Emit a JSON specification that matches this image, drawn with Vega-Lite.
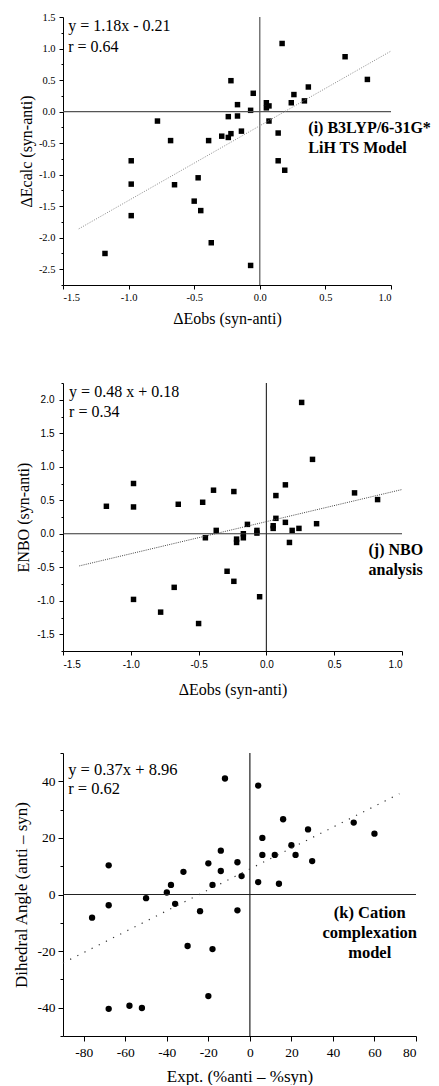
{
  "$schema": "https://vega.github.io/schema/vega-lite/v6.json",
  "padding": {"left": 12, "top": 12, "right": 0, "bottom": 0},
  "columns": 1,
  "align": "none",
  "spacing": 55,
  "config": {
    "view": {"stroke": null},
    "axis": {
      "grid": false,
      "domainColor": "black",
      "domainWidth": 1,
      "tickColor": "black",
      "tickWidth": 1,
      "labelColor": "black",
      "titleColor": "black",
      "titleFont": "Liberation Serif",
      "titleFontWeight": "normal",
      "titleFontSize": 16
    }
  },
  "datasets": {
    "z": [{"x": 0, "y": 0}],
    "p1": [
      {"x": 0.17, "y": 1.08}, {"x": 0.65, "y": 0.87}, {"x": 0.82, "y": 0.51}, {"x": -0.22, "y": 0.49},
      {"x": -0.05, "y": 0.29}, {"x": 0.37, "y": 0.39}, {"x": 0.26, "y": 0.27}, {"x": 0.34, "y": 0.17},
      {"x": 0.24, "y": 0.14}, {"x": 0.05, "y": 0.14}, {"x": 0.05, "y": 0.06}, {"x": 0.07, "y": 0.09},
      {"x": -0.17, "y": 0.11}, {"x": -0.07, "y": 0.02}, {"x": -0.24, "y": -0.08}, {"x": -0.17, "y": -0.07},
      {"x": 0.07, "y": -0.15}, {"x": -0.78, "y": -0.15}, {"x": -0.14, "y": -0.31}, {"x": -0.22, "y": -0.35},
      {"x": -0.29, "y": -0.39}, {"x": -0.24, "y": -0.41}, {"x": -0.39, "y": -0.46}, {"x": -0.68, "y": -0.46},
      {"x": 0.14, "y": -0.34}, {"x": -0.98, "y": -0.78}, {"x": 0.14, "y": -0.78}, {"x": 0.19, "y": -0.93},
      {"x": -0.47, "y": -1.05}, {"x": -0.98, "y": -1.15}, {"x": -0.65, "y": -1.16}, {"x": -0.5, "y": -1.42},
      {"x": -0.45, "y": -1.57}, {"x": -0.98, "y": -1.65}, {"x": -0.37, "y": -2.08}, {"x": -1.18, "y": -2.25},
      {"x": -0.07, "y": -2.44}
    ],
    "p2": [
      {"x": 0.26, "y": 1.96}, {"x": 0.34, "y": 1.11}, {"x": 0.14, "y": 0.73}, {"x": 0.65, "y": 0.61},
      {"x": 0.82, "y": 0.51}, {"x": 0.07, "y": 0.57}, {"x": -0.98, "y": 0.75}, {"x": -0.39, "y": 0.65},
      {"x": -0.24, "y": 0.63}, {"x": -0.47, "y": 0.47}, {"x": -0.65, "y": 0.44}, {"x": -1.18, "y": 0.41},
      {"x": -0.98, "y": 0.4}, {"x": 0.07, "y": 0.23}, {"x": -0.14, "y": 0.14}, {"x": 0.14, "y": 0.17},
      {"x": 0.37, "y": 0.15}, {"x": 0.05, "y": 0.12}, {"x": 0.05, "y": 0.08}, {"x": 0.24, "y": 0.08},
      {"x": 0.19, "y": 0.05}, {"x": -0.37, "y": 0.05}, {"x": -0.07, "y": 0.05}, {"x": -0.07, "y": 0.01},
      {"x": -0.17, "y": 0.0}, {"x": -0.17, "y": -0.06}, {"x": -0.45, "y": -0.06}, {"x": -0.22, "y": -0.08},
      {"x": -0.22, "y": -0.13}, {"x": 0.17, "y": -0.13}, {"x": -0.29, "y": -0.56}, {"x": -0.24, "y": -0.71},
      {"x": -0.68, "y": -0.8}, {"x": -0.05, "y": -0.94}, {"x": -0.98, "y": -0.98}, {"x": -0.78, "y": -1.17},
      {"x": -0.5, "y": -1.34}
    ],
    "p3": [
      {"x": -12, "y": 41}, {"x": 4, "y": 38.5}, {"x": 16, "y": 26.6}, {"x": 28, "y": 23},
      {"x": 50, "y": 25.4}, {"x": 60, "y": 21.5}, {"x": 6, "y": 20}, {"x": 20, "y": 17.4},
      {"x": -14, "y": 15.5}, {"x": 6, "y": 14}, {"x": 12, "y": 14}, {"x": 22, "y": 14},
      {"x": 30, "y": 11.8}, {"x": -20, "y": 11}, {"x": -6, "y": 11.4}, {"x": -68, "y": 10.3},
      {"x": -32, "y": 8}, {"x": -14, "y": 8.3}, {"x": -4, "y": 6.5}, {"x": 4, "y": 4.4},
      {"x": 14, "y": 3.8}, {"x": -38, "y": 3.4}, {"x": -18, "y": 3.4}, {"x": -40, "y": 0.7},
      {"x": -50, "y": -1.3}, {"x": -68, "y": -3.8}, {"x": -36, "y": -3.3}, {"x": -24, "y": -5.9},
      {"x": -6, "y": -5.6}, {"x": -76, "y": -8.2}, {"x": -30, "y": -18.2}, {"x": -18, "y": -19.3},
      {"x": -20, "y": -35.9}, {"x": -58, "y": -39.3}, {"x": -52, "y": -40.1}, {"x": -68, "y": -40.4}
    ],
    "t1": [{"x": -1.38, "y": -1.86}, {"x": 1.0, "y": 0.96}],
    "t2": [{"x": -1.38, "y": -0.48}, {"x": 1.0, "y": 0.66}],
    "t3": [{"x": -90, "y": -24.2}, {"x": 72, "y": 35.6}],
    "e1": [{"x": -1.46, "y": 1.35, "text": "y = 1.18x - 0.21"}, {"x": -1.46, "y": 1.03, "text": "r = 0.64"}],
    "l1": [{"x": 0.37, "y": -0.265, "text": "(i) B3LYP/6-31G*"}, {"x": 0.37, "y": -0.583, "text": "LiH TS Model"}],
    "e2": [{"x": -1.455, "y": 2.11, "text": "y = 0.48 x + 0.18"}, {"x": -1.455, "y": 1.82, "text": "r = 0.34"}],
    "l2": [{"x": 0.753, "y": -0.243, "text": "(j) NBO"}, {"x": 0.753, "y": -0.541, "text": "analysis"}],
    "e3": [{"x": -87.5, "y": 44.1, "text": "y = 0.37x + 8.96"}, {"x": -87.5, "y": 37.2, "text": "r = 0.62"}],
    "l3": [{"x": 57.7, "y": -6.4, "text": "(k) Cation"}, {"x": 57.7, "y": -13.5, "text": "complexation"}, {"x": 57.7, "y": -20.8, "text": "model"}]
  },
  "concat": [
    {
      "width": 328,
      "height": 268,
      "resolve": {"axis": {"y": "independent"}},
      "layer": [
        {
          "data": {"name": "p1"},
          "mark": {"type": "point", "shape": "square", "filled": true, "color": "black", "opacity": 1, "size": 30},
          "encoding": {
            "x": {
              "field": "x", "type": "quantitative",
              "scale": {"domain": [-1.5, 1.0], "nice": false, "zero": false},
              "axis": {
                "title": "ΔEobs (syn-anti)",
                "values": [-1.5, -1.25, -1, -0.75, -0.5, -0.25, 0, 0.25, 0.5, 0.75, 1],
                "labelExpr": "datum.value % 0.5 == 0 ? replace(format(datum.value, '.1f'), '−', '-') : ''",
                "tickSize": {"condition": {"test": "datum.value % 0.5 == 0", "value": 4}, "value": 2},
                "labelFont": "Liberation Serif", "labelFontSize": 10.5, "labelPadding": 3, "titlePadding": 8
              }
            },
            "y": {
              "field": "y", "type": "quantitative",
              "scale": {"domain": [-2.75, 1.5], "nice": false, "zero": false},
              "axis": {
                "orient": "left",
                "title": "ΔEcalc (syn-anti)",
                "values": [-2.5, -2.25, -1.5, -1.25, -0.5, -0.25, 0.5, 0.75, 1.5],
                "labelExpr": "datum.value % 0.5 == 0 ? replace(format(datum.value, '.1f'), '−', '-') : ''",
                "tickSize": {"condition": {"test": "datum.value % 0.5 == 0", "value": 4}, "value": 2},
                "labelFont": "Liberation Serif", "labelFontSize": 10.5, "labelPadding": 4, "titlePadding": 4
              }
            }
          }
        },
        {
          "data": {"name": "z"},
          "mark": {"type": "rule", "color": "#555", "strokeWidth": 1.2},
          "encoding": {
            "y": {
              "field": "y", "type": "quantitative",
              "axis": {
                "orient": "left", "title": null, "domain": false,
                "values": [-2, -1.75, -1, -0.75, 0, 0.25, 1],
                "labelExpr": "datum.value % 0.5 == 0 ? replace(format(datum.value, '.1f'), '−', '-') : ''",
                "tickSize": {"condition": {"test": "datum.value % 0.5 == 0", "value": 4}, "value": 2},
                "labelFont": "Liberation Serif", "labelFontSize": 10.5, "labelPadding": 4
              }
            }
          }
        },
        {"data": {"name": "z"}, "mark": {"type": "rule", "color": "#555", "strokeWidth": 1.2}, "encoding": {"x": {"field": "x", "type": "quantitative"}}},
        {
          "data": {"name": "t1"},
          "mark": {"type": "line", "color": "#888", "strokeWidth": 1, "strokeDash": [1, 1.5]},
          "encoding": {
            "x": {"field": "x", "type": "quantitative"},
            "y": {"field": "y", "type": "quantitative", "axis": {"orient": "left", "title": null, "domain": false, "labels": false, "values": [-2.75, 1.25], "tickSize": 2}}
          }
        },
        {
          "data": {"name": "e1"},
          "mark": {"type": "text", "font": "Liberation Serif", "fontSize": 16, "align": "left", "baseline": "middle", "color": "black"},
          "encoding": {"x": {"field": "x", "type": "quantitative"}, "y": {"field": "y", "type": "quantitative", "axis": null}, "text": {"field": "text"}}
        },
        {
          "data": {"name": "l1"},
          "mark": {"type": "text", "font": "Liberation Serif", "fontSize": 16, "fontWeight": "bold", "align": "left", "baseline": "middle", "color": "black"},
          "encoding": {"x": {"field": "x", "type": "quantitative"}, "y": {"field": "y", "type": "quantitative", "axis": null}, "text": {"field": "text"}}
        }
      ]
    },
    {
      "width": 339,
      "height": 268,
      "resolve": {"axis": {"y": "independent"}},
      "layer": [
        {
          "data": {"name": "p2"},
          "mark": {"type": "point", "shape": "square", "filled": true, "color": "black", "opacity": 1, "size": 30},
          "encoding": {
            "x": {
              "field": "x", "type": "quantitative",
              "scale": {"domain": [-1.5, 1.0], "nice": false, "zero": false},
              "axis": {
                "title": "ΔEobs (syn-anti)",
                "values": [-1.5, -1.25, -1, -0.75, -0.5, -0.25, 0, 0.25, 0.5, 0.75, 1],
                "labelExpr": "datum.value % 0.5 == 0 ? replace(format(datum.value, '.1f'), '−', '-') : ''",
                "tickSize": {"condition": {"test": "datum.value % 0.5 == 0", "value": 4}, "value": 2},
                "labelFont": "Liberation Sans", "labelFontSize": 10, "labelPadding": 4, "titlePadding": 12
              }
            },
            "y": {
              "field": "y", "type": "quantitative",
              "scale": {"domain": [-1.75, 2.25], "nice": false, "zero": false},
              "axis": {
                "orient": "left",
                "title": "ENBO (syn-anti)",
                "values": [-1.5, -1.25, -0.5, -0.25, 0.5, 0.75, 1.5],
                "labelExpr": "datum.value % 0.5 == 0 ? replace(format(datum.value, '.1f'), '−', '-') : ''",
                "tickSize": {"condition": {"test": "datum.value % 0.5 == 0", "value": 4}, "value": 2},
                "labelFont": "Liberation Sans", "labelFontSize": 10, "labelPadding": 5, "titlePadding": 5
              }
            }
          }
        },
        {
          "data": {"name": "z"},
          "mark": {"type": "rule", "color": "#333", "strokeWidth": 1.2},
          "encoding": {
            "y": {
              "field": "y", "type": "quantitative",
              "axis": {
                "orient": "left", "title": null, "domain": false,
                "values": [-1, -0.75, 0, 0.25, 1, 1.25, 2],
                "labelExpr": "datum.value % 0.5 == 0 ? replace(format(datum.value, '.1f'), '−', '-') : ''",
                "tickSize": {"condition": {"test": "datum.value % 0.5 == 0", "value": 4}, "value": 2},
                "labelFont": "Liberation Sans", "labelFontSize": 10, "labelPadding": 5
              }
            }
          }
        },
        {"data": {"name": "z"}, "mark": {"type": "rule", "color": "#333", "strokeWidth": 1.2}, "encoding": {"x": {"field": "x", "type": "quantitative"}}},
        {
          "data": {"name": "t2"},
          "mark": {"type": "line", "color": "#444", "strokeWidth": 1, "strokeDash": [1, 1.2]},
          "encoding": {
            "x": {"field": "x", "type": "quantitative"},
            "y": {"field": "y", "type": "quantitative", "axis": {"orient": "left", "title": null, "domain": false, "labels": false, "values": [-1.75, 1.75, 2.25], "tickSize": 2}}
          }
        },
        {
          "data": {"name": "e2"},
          "mark": {"type": "text", "font": "Liberation Serif", "fontSize": 16, "align": "left", "baseline": "middle", "color": "black"},
          "encoding": {"x": {"field": "x", "type": "quantitative"}, "y": {"field": "y", "type": "quantitative", "axis": null}, "text": {"field": "text"}}
        },
        {
          "data": {"name": "l2"},
          "mark": {"type": "text", "font": "Liberation Serif", "fontSize": 16, "fontWeight": "bold", "align": "left", "baseline": "middle", "color": "black"},
          "encoding": {"x": {"field": "x", "type": "quantitative"}, "y": {"field": "y", "type": "quantitative", "axis": null}, "text": {"field": "text"}}
        }
      ]
    },
    {
      "width": 353,
      "height": 283,
      "resolve": {"axis": {"y": "independent"}},
      "layer": [
        {
          "data": {"name": "p3"},
          "mark": {"type": "point", "shape": "circle", "filled": true, "color": "black", "opacity": 1, "size": 40},
          "encoding": {
            "x": {
              "field": "x", "type": "quantitative",
              "scale": {"domain": [-90, 80], "nice": false, "zero": false},
              "axis": {
                "title": "Expt. (%anti – %syn)",
                "titleFontSize": 17,
                "values": [-80, -70, -60, -50, -40, -30, -20, -10, 0, 10, 20, 30, 40, 50, 60, 70, 80],
                "labelExpr": "datum.value % 20 == 0 ? replace(format(datum.value, 'd'), '−', '-') : ''",
                "tickSize": {"condition": {"test": "datum.value % 20 == 0", "value": 5}, "value": 3},
                "labelFont": "Liberation Serif", "labelFontSize": 13.5, "labelPadding": 4, "titlePadding": 10
              }
            },
            "y": {
              "field": "y", "type": "quantitative",
              "scale": {"domain": [-50, 50], "nice": false, "zero": false},
              "axis": {
                "orient": "left",
                "title": "Dihedral Angle (anti – syn)",
                "titleFontSize": 17,
                "values": [-40, -30, -20, -10, 0, 10, 20, 30, 40],
                "labelExpr": "datum.value % 20 == 0 ? replace(format(datum.value, 'd'), '−', '-') : ''",
                "tickSize": {"condition": {"test": "datum.value % 20 == 0", "value": 5}, "value": 3},
                "labelFont": "Liberation Serif", "labelFontSize": 13.5, "labelPadding": 3, "titlePadding": 7
              }
            }
          }
        },
        {"data": {"name": "z"}, "mark": {"type": "rule", "color": "#222", "strokeWidth": 1.2}, "encoding": {"y": {"field": "y", "type": "quantitative", "axis": null}}},
        {"data": {"name": "z"}, "mark": {"type": "rule", "color": "#222", "strokeWidth": 1.2}, "encoding": {"x": {"field": "x", "type": "quantitative"}}},
        {
          "data": {"name": "t3"},
          "mark": {"type": "line", "color": "#333", "strokeWidth": 1.2, "strokeDash": [1.2, 6.8]},
          "encoding": {
            "x": {"field": "x", "type": "quantitative"},
            "y": {"field": "y", "type": "quantitative", "axis": {"orient": "left", "title": null, "domain": false, "labels": false, "values": [-50, 50], "tickSize": 3}}
          }
        },
        {
          "data": {"name": "e3"},
          "mark": {"type": "text", "font": "Liberation Serif", "fontSize": 16.5, "align": "left", "baseline": "middle", "color": "black"},
          "encoding": {"x": {"field": "x", "type": "quantitative"}, "y": {"field": "y", "type": "quantitative", "axis": null}, "text": {"field": "text"}}
        },
        {
          "data": {"name": "l3"},
          "mark": {"type": "text", "font": "Liberation Serif", "fontSize": 16.5, "fontWeight": "bold", "align": "center", "baseline": "middle", "color": "black"},
          "encoding": {"x": {"field": "x", "type": "quantitative"}, "y": {"field": "y", "type": "quantitative", "axis": null}, "text": {"field": "text"}}
        }
      ]
    }
  ]
}
